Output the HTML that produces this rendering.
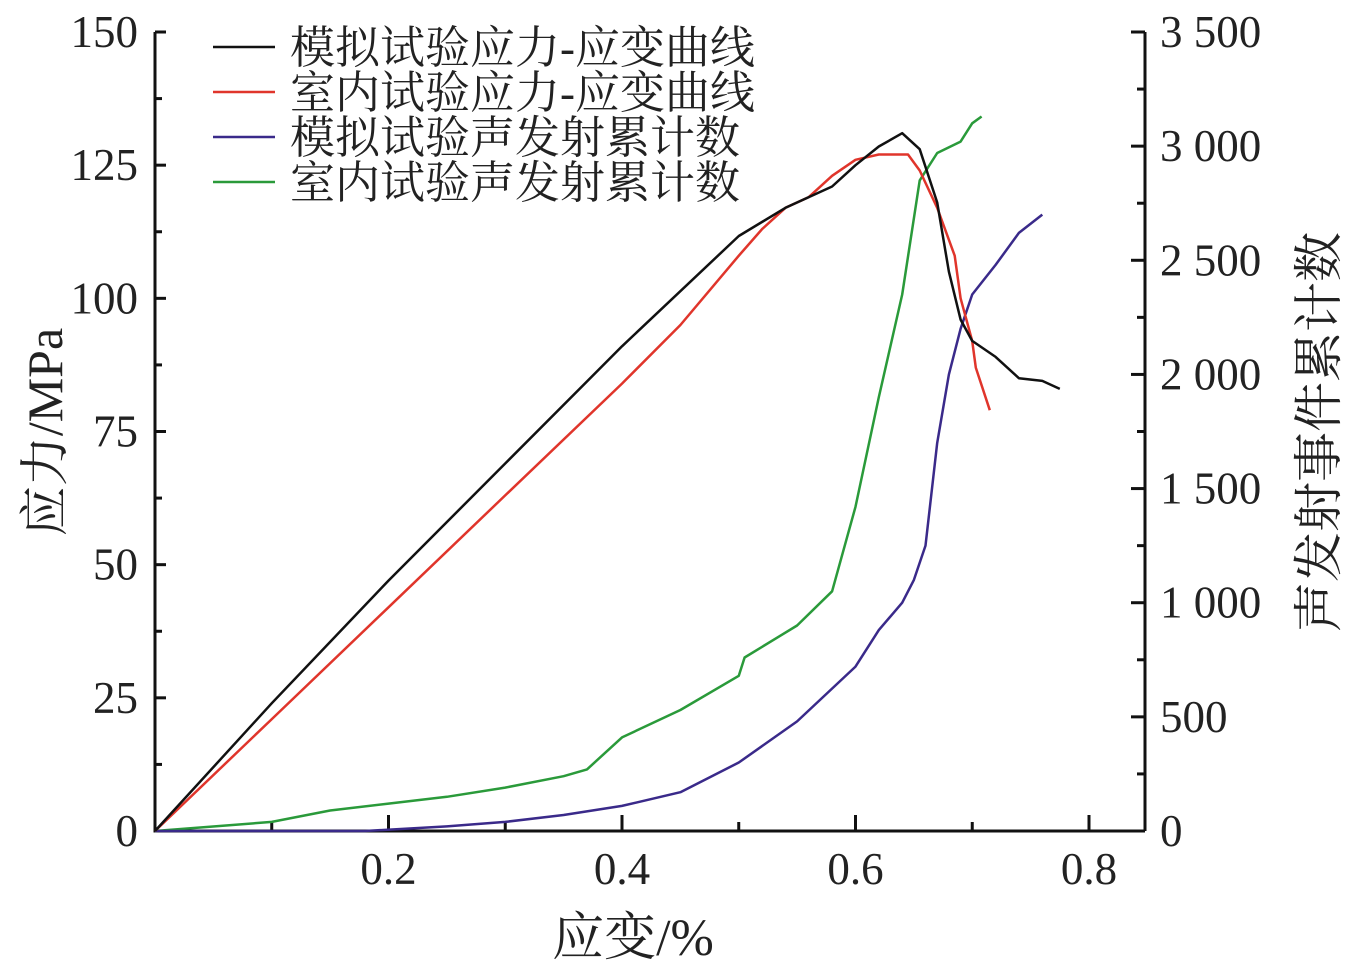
<!DOCTYPE html>
<html><head><meta charset="utf-8"><style>
body{margin:0;background:#fff}
svg text{font-family:"Liberation Serif","Noto Serif CJK SC",serif;fill:#222}
</style></head><body>
<svg id="c" width="1370" height="966"></svg>
<script>
const xVals=[0,0.1,0.2,0.3,0.4,0.5,0.54,0.58,0.6,0.62,0.64,0.655,0.67,0.68,0.69,0.70,0.72,0.74,0.76,0.775];
const simStress=[0,24,47,69,91,111.7,117,121,125,128.5,131,128,118,105,96,92,89,85,84.5,83];
const labX=[0,0.1,0.2,0.3,0.4,0.45,0.5,0.52,0.54,0.56,0.58,0.6,0.62,0.645,0.655,0.67,0.685,0.69,0.70,0.703,0.715];
const labStress=[0,21,42,63,84,95,108,113,117,119,123,126,127,127,124,117,108,100,92,87,79];
const greenX=[0,0.1,0.15,0.2,0.25,0.3,0.35,0.37,0.4,0.45,0.5,0.505,0.55,0.58,0.6,0.62,0.64,0.655,0.67,0.69,0.7,0.708];
const labAE=[0,40,90,120,150,190,240,270,410,530,680,760,900,1050,1420,1900,2350,2850,2970,3020,3100,3130];
const purpleX=[0,0.18,0.25,0.3,0.35,0.4,0.45,0.5,0.55,0.6,0.62,0.64,0.65,0.66,0.67,0.68,0.69,0.70,0.72,0.74,0.76];
const simAE=[0,0,20,40,70,110,170,300,480,720,880,1000,1100,1250,1700,2000,2200,2350,2480,2620,2700];
const xTicks=[0.2,0.4,0.6,0.8];
const yTicks=[0,25,50,75,100,125,150];
const y2Ticks=[0,500,1000,1500,2000,2500,3000,3500];
const y2Labels=["0","500","1 000","1 500","2 000","2 500","3 000","3 500"];
const legendLabels=["模拟试验应力-应变曲线","室内试验应力-应变曲线","模拟试验声发射累计数","室内试验声发射累计数"];
const legendColors=["#111","#e0352b","#3a2a8a","#2a9a3a"];

const NS="http://www.w3.org/2000/svg",svg=document.getElementById('c');
const X0=155,X1=1145,Y0=831,Y1=32;
const sx=v=>X0+v/0.2*233.5;
const sy=v=>Y0-v/150*(Y0-Y1);
const sy2=v=>Y0-v/3500*(Y0-Y1);
function el(t,a,p){const e=document.createElementNS(NS,t);for(const k in a)e.setAttribute(k,a[k]);(p||svg).appendChild(e);return e;}
function txt(s,a){const e=el('text',a);e.textContent=s;return e;}
const ax=el('path',{d:`M${X0},${Y1}V${Y0}H${X1}M${X1},${Y0}V${Y1}`,stroke:'#111','stroke-width':3,fill:'none'});


for(let v=0;v<=150;v+=12.5){const y=sy(v);const L=v%25==0?11:7;
 const t=el('line',{x1:X0,x2:X0+L,y1:y,y2:y,stroke:'#111','stroke-width':3});
 
 }
for(let v=0;v<=3500;v+=250){const y=sy2(v);const L=v%500==0?14:8;
 const t=el('line',{x1:X1-L,x2:X1,y1:y,y2:y,stroke:'#111','stroke-width':3});
 
 }
for(let v=0.1;v<0.85;v+=0.1){const x=sx(v);const L=Math.round(v*10)%2==0?16:9;
 const t=el('line',{x1:x,x2:x,y1:Y0,y2:Y0-L,stroke:'#111','stroke-width':3});
 
 }
yTicks.forEach(v=>{const t=txt(String(v),{x:138,y:sy(v)+15,'font-size':45,'text-anchor':'end'});
 
 });
y2Ticks.forEach((v,i)=>{const t=txt(y2Labels[i],{x:1160,y:sy2(v)+15,'font-size':45});
 
 });
xTicks.forEach(v=>{const t=txt(String(v),{x:sx(v),y:884,'font-size':45,'text-anchor':'middle'});
 
 });
let t=txt('应变/%',{x:633,y:955,'font-size':52,'text-anchor':'middle'});


t=txt('应力/MPa',{x:0,y:0,'font-size':50,'text-anchor':'middle',transform:'translate(62,432) rotate(-90)'});


t=txt('声发射事件累计数',{x:0,y:0,'font-size':50,'text-anchor':'middle',transform:'translate(1336,432) rotate(-90)'});


function line(xs,ys,f,c,name){const d=xs.map((x,i)=>(i?'L':'M')+sx(x).toFixed(1)+','+f(ys[i]).toFixed(1)).join('');
 const p=el('path',{d,stroke:c,'stroke-width':2.5,fill:'none','stroke-linejoin':'round'});
 
 }
line(greenX,labAE,sy2,legendColors[3],'lab-ae-count-line');
line(purpleX,simAE,sy2,legendColors[2],'sim-ae-count-line');
line(labX,labStress,sy,legendColors[1],'lab-stress-strain-line');
line(xVals,simStress,sy,legendColors[0],'sim-stress-strain-line');
legendLabels.forEach((s,i)=>{const y=47+i*45;
 const l=el('line',{x1:213,x2:275,y1:y,y2:y,stroke:legendColors[i],'stroke-width':2.5});
 
 
 const tt=txt(s,{x:290,y:y+16,'font-size':45});
 
 });
</script>
</body></html>
